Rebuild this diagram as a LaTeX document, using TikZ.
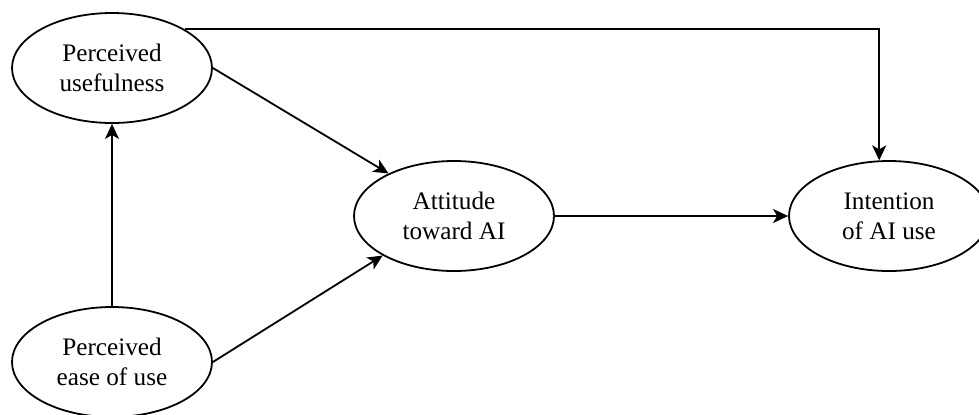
\documentclass[tikz,border=0pt]{standalone}
\usepackage{fontspec}
\setmainfont{Liberation Serif}
\usetikzlibrary{arrows.meta}
\usetikzlibrary{shapes.geometric}

\tikzset{
	construct/.style={ellipse, draw, line width=0.9pt, minimum width=100pt, minimum height=55pt,
		inner sep=0pt, align=center, font=\fontsize{12.6}{15}\selectfont},
	link/.style={-{Stealth[length=7.5pt,width=7pt,inset=2pt]}, line width=0.9pt}
}

\begin{document}
\begin{tikzpicture}[x=0.5pt, y=-0.5pt]
	\useasboundingbox (0,0) rectangle (979,414);

	\draw (112, 68) node[construct] (useful) {Perceived\\usefulness};
	\draw (112, 362) node[construct] (ease) {Perceived\\ease of use};
	\draw (454, 216) node[construct] (attitude) {Attitude\\toward AI};
	\draw (889, 216) node[construct] (intent) {Intention\\of AI use};

	\draw[link] (ease) -- (useful);
	\draw[link] (useful.east) -- (attitude.147);
	\draw[link] (ease.east) -- (attitude.209);
	\draw[link] (attitude) -- (intent);
	\draw[link] (useful.28) -| (intent.100);

\end{tikzpicture}
\end{document}
